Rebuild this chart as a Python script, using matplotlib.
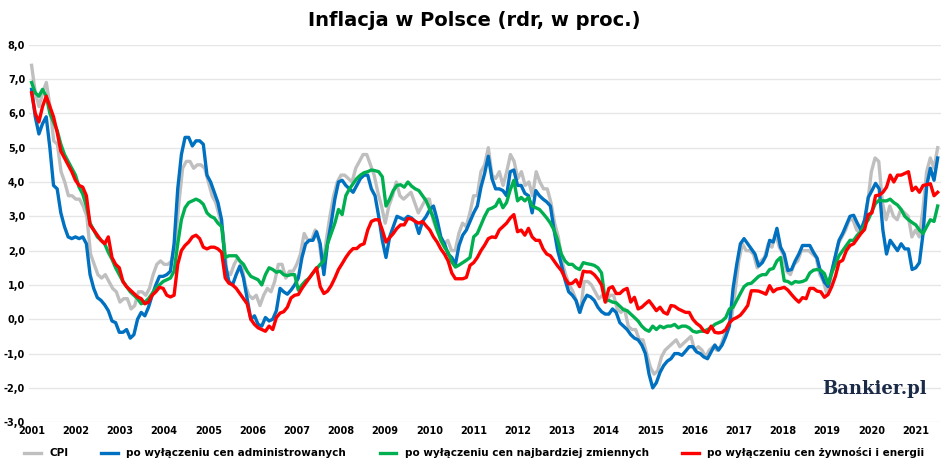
import matplotlib
matplotlib.use("Agg")
import matplotlib.pyplot as plt
import numpy as np

years = [str(y) for y in range(2001, 2022)]

cpi = [7.4,6.6,6.2,6.6,6.9,6.2,5.2,5.1,4.3,4.0,3.6,3.6,
       3.5,3.5,3.3,3.0,1.9,1.6,1.3,1.2,1.3,1.1,0.9,0.8,
       0.5,0.6,0.6,0.3,0.4,0.8,0.8,0.7,0.9,1.3,1.6,1.7,
       1.6,1.6,1.7,2.2,3.4,4.4,4.6,4.6,4.4,4.5,4.5,4.4,
       4.0,3.6,3.4,3.0,2.5,1.4,1.3,1.6,1.8,1.6,1.0,0.7,
       0.6,0.7,0.4,0.7,0.9,0.8,1.1,1.6,1.6,1.2,1.4,1.4,
       1.6,1.9,2.5,2.3,2.3,2.6,2.3,1.5,2.3,3.0,3.6,4.0,
       4.2,4.2,4.1,4.0,4.4,4.6,4.8,4.8,4.5,4.2,3.7,3.3,
       2.8,3.3,3.6,4.0,3.6,3.5,3.6,3.7,3.4,3.1,3.3,3.5,
       3.5,2.9,2.6,2.4,2.2,2.3,2.0,2.0,2.5,2.8,2.7,3.1,
       3.6,3.6,4.3,4.5,5.0,4.2,4.1,4.3,3.9,4.3,4.8,4.6,
       4.1,4.3,3.9,4.0,3.6,4.3,4.0,3.8,3.8,3.4,2.8,2.4,
       1.7,1.3,1.0,0.8,0.5,0.2,1.1,1.1,1.0,0.8,0.6,0.7,
       0.5,0.7,0.7,0.3,0.2,0.3,-0.2,-0.3,-0.3,-0.6,-0.6,-1.0,
       -1.4,-1.6,-1.5,-1.1,-0.9,-0.8,-0.7,-0.6,-0.8,-0.7,-0.6,-0.5,
       -0.9,-0.8,-0.9,-1.1,-0.9,-0.8,-0.9,-0.8,-0.5,-0.2,0.0,0.8,
       1.7,2.2,2.0,2.0,1.9,1.5,1.7,1.8,2.2,2.1,2.5,2.1,
       1.9,1.4,1.3,1.6,1.7,2.0,2.0,2.0,1.9,1.8,1.3,1.1,
       0.7,1.2,1.7,2.2,2.4,2.6,2.9,2.9,2.6,2.5,2.6,3.4,
       4.3,4.7,4.6,3.4,2.9,3.3,3.0,2.9,3.2,3.1,3.0,2.4,
       2.6,2.4,3.2,4.3,4.7,4.4,5.0]

admin = [6.7,5.9,5.4,5.7,5.9,5.0,3.9,3.8,3.1,2.7,2.4,2.35,
         2.4,2.35,2.4,2.2,1.3,0.9,0.63,0.55,0.42,0.25,-0.05,-0.1,
         -0.38,-0.38,-0.3,-0.55,-0.45,0.0,0.2,0.1,0.35,0.7,1.0,1.25,
         1.25,1.3,1.4,2.2,3.8,4.8,5.3,5.3,5.05,5.2,5.2,5.1,
         4.2,4.0,3.7,3.4,2.9,1.6,1.1,1.0,1.3,1.55,1.2,0.6,
         0.0,0.1,-0.15,-0.2,0.05,-0.05,
         0.0,0.25,0.9,0.8,0.73,0.85,1.0,1.2,1.8,2.2,2.3,2.3,
         2.55,2.2,1.3,2.2,2.8,3.5,4.0,4.05,3.9,3.8,3.7,3.9,
         4.1,4.2,4.2,3.8,3.6,3.0,2.3,1.8,2.4,2.7,3.0,2.95,
         2.9,3.0,2.95,2.85,2.5,2.85,3.0,3.2,3.3,2.9,2.4,2.2,
         1.9,1.8,1.6,2.15,2.45,2.6,2.85,3.1,3.3,3.85,4.25,4.75,
         4.1,3.8,3.8,
         3.75,3.6,4.3,4.35,3.9,3.9,3.67,3.6,3.1,3.75,3.6,3.5,
         3.42,3.3,2.6,2.0,1.6,1.15,0.8,0.7,0.55,0.2,0.5,0.7,
         0.65,0.55,0.35,0.22,0.15,0.15,0.3,0.2,-0.1,-0.2,-0.3,-0.45,
         -0.55,-0.6,-0.75,-1.0,-1.6,-2.0,-1.85,-1.55,-1.35,-1.22,-1.15,-1.0,
         -1.0,-1.05,-0.93,-0.8,-0.8,-0.95,-1.0,-1.1,-1.15,-0.95,-0.75,-0.9,
         -0.75,-0.5,-0.2,
         0.9,1.6,2.2,2.35,2.2,2.05,1.9,1.55,1.65,1.85,2.3,2.25,
         2.65,2.1,1.9,1.42,1.45,1.7,1.9,2.15,2.15,2.15,1.95,1.78,
         1.35,1.08,0.95,1.4,1.85,2.3,2.5,2.75,3.0,3.03,2.8,2.6,
         2.9,3.55,3.75,3.96,3.8,2.6,1.9,2.3,2.15,2.0,2.2,2.05,
         2.05,1.45,1.5,1.65,2.5,3.9,4.4,4.05,4.7]

volatile = [6.9,6.6,6.5,6.7,6.5,6.0,5.75,5.5,5.1,4.8,4.6,4.4,
            4.2,3.85,3.65,3.3,2.8,2.6,2.4,2.3,2.2,1.95,1.75,1.5,
            1.3,1.1,0.95,0.8,0.7,0.6,0.45,0.5,0.6,0.75,0.9,1.0,
            1.1,1.15,1.2,1.4,2.2,2.9,3.25,3.4,3.45,3.5,3.45,3.35,
            3.1,3.0,2.95,2.8,2.7,1.8,1.85,1.85,1.85,1.7,1.6,1.4,
            1.25,1.2,1.15,1.0,1.3,1.5,
            1.45,1.37,1.4,1.3,1.27,1.3,1.3,0.85,1.0,1.12,1.2,1.35,
            1.47,1.6,1.7,2.2,2.5,2.8,3.2,3.05,3.6,3.8,3.95,4.1,
            4.2,4.27,4.3,4.35,4.33,4.3,4.15,3.3,3.5,3.75,3.9,3.92,
            3.85,4.0,3.88,3.8,3.75,3.6,3.45,3.2,2.95,2.6,2.3,2.1,
            1.95,1.67,1.52,1.58,1.65,1.72,1.8,2.4,2.5,2.75,3.0,3.2,
            3.24,3.3,3.5,
            3.25,3.4,3.77,4.05,3.45,3.55,3.45,3.55,3.3,3.25,3.2,3.08,
            2.95,2.8,2.6,2.3,1.9,1.7,1.6,1.6,1.5,1.45,1.65,1.62,
            1.6,1.57,1.5,1.35,0.55,0.55,0.5,0.48,0.38,0.28,0.25,0.15,
            0.05,-0.05,-0.2,-0.3,-0.35,-0.2,-0.3,-0.2,-0.25,-0.2,-0.2,-0.15,
            -0.25,-0.2,-0.2,-0.25,-0.35,-0.38,-0.35,-0.35,-0.3,-0.25,-0.15,-0.1,
            -0.05,0.05,0.3,
            0.35,0.55,0.75,0.95,1.03,1.05,1.15,1.25,1.3,1.3,1.45,1.48,
            1.7,1.8,1.12,1.1,1.03,1.1,1.08,1.1,1.15,1.35,1.43,1.45,
            1.43,1.33,1.03,1.35,1.6,1.85,2.0,2.15,2.3,2.3,2.45,2.55,
            2.75,2.9,3.15,3.38,3.47,3.45,3.45,3.5,3.4,3.33,3.2,3.0,
            2.9,2.82,2.75,2.6,2.5,2.7,2.9,2.85,3.3]

core = [6.6,6.0,5.75,6.2,6.5,6.2,5.9,5.45,4.9,4.7,4.5,4.3,
        4.05,3.9,3.85,3.6,2.75,2.6,2.45,2.3,2.2,2.4,1.8,1.6,
        1.5,1.1,0.95,0.85,0.75,0.65,0.6,0.45,0.5,0.7,0.8,0.93,
        0.9,0.7,0.65,0.7,1.6,2.0,2.15,2.25,2.4,2.45,2.35,2.1,
        2.05,2.1,2.1,2.05,1.95,1.2,1.05,1.0,0.9,0.75,0.6,0.45,
        0.0,-0.15,-0.25,-0.3,-0.35,-0.2,
        -0.3,0.05,0.18,0.22,0.35,0.62,0.7,0.72,0.9,1.05,1.2,1.35,
        1.5,0.95,0.75,0.82,0.98,1.2,1.45,1.62,1.8,1.95,2.06,2.06,
        2.16,2.2,2.6,2.85,2.9,2.9,2.6,2.25,2.38,2.5,2.65,2.75,
        2.75,2.94,2.92,2.85,2.8,2.85,2.72,2.6,2.4,2.25,2.05,1.9,
        1.7,1.35,1.18,1.18,1.18,1.22,1.57,1.65,1.8,2.0,2.16,2.35,
        2.4,2.38,2.6,
        2.7,2.8,2.95,3.05,2.55,2.6,2.45,2.65,2.4,2.3,2.3,2.05,
        1.9,1.85,1.7,1.55,1.42,1.2,1.03,1.05,1.15,0.95,1.4,1.38,
        1.38,1.3,1.17,1.0,0.5,0.9,0.95,0.75,0.75,0.85,0.9,0.5,
        0.64,0.3,0.35,0.45,0.54,0.4,0.25,0.35,0.2,0.15,0.4,0.38,
        0.3,0.25,0.2,0.2,0.0,-0.12,-0.2,-0.34,-0.39,-0.2,-0.38,-0.4,
        -0.38,-0.3,-0.1,
        0.0,0.05,0.12,0.25,0.4,0.83,0.83,0.82,0.78,0.73,0.98,0.8,
        0.88,0.9,0.93,0.85,0.72,0.6,0.5,0.63,0.6,0.9,0.9,0.82,
        0.8,0.64,0.72,0.95,1.25,1.66,1.72,2.0,2.15,2.2,2.35,2.5,
        2.62,3.05,3.1,3.6,3.62,3.7,3.85,4.2,4.0,4.2,4.2,4.25,
        4.3,3.75,3.85,3.7,3.9,3.92,3.95,3.6,3.7]

labels = ["CPI", "po wyłączeniu cen administrowanych",
          "po wyłączeniu cen najbardziej zmiennych",
          "po wyłączeniu cen żywności i energii"]
colors = ["#BFBFBF", "#0070C0", "#00B050", "#FF0000"]

fig = plt.figure(figsize=(9.48, 4.66), dpi=100)
ax = fig.add_axes([0.031, 0.094, 0.962, 0.81])
n_months = len(cpi) - 1
for data, lab, col in zip([cpi, admin, volatile, core], labels, colors):
    x = np.linspace(0, n_months, len(data))
    ax.plot(x, data, color=col, lw=2.4, label=lab, solid_joinstyle="round")

ax.set_xlim(-0.6, n_months + 1)
ax.set_ylim(-3, 8)
yt = np.arange(-3, 9, 1.0)
ax.set_yticks(yt)
ax.set_yticklabels([f"{v:.1f}".replace(".", ",") for v in yt], fontsize=7, fontweight="bold")
ax.set_xticks(np.arange(0, 12 * len(years), 12))
ax.set_xticklabels(years, fontsize=7, fontweight="bold")
ax.grid(axis="y", color="#E6E6E6", lw=1)
ax.set_axisbelow(True)
for s in ax.spines.values():
    s.set_visible(False)
ax.tick_params(length=0, pad=3)

fig.text(0.5, 0.955, "Inflacja w Polsce (rdr, w proc.)", ha="center", va="center",
         fontsize=14, fontweight="bold")
leg = fig.legend(loc="center", bbox_to_anchor=(0.5, 0.028), ncol=4, frameon=False,
                 fontsize=7.5, handlelength=1.6, columnspacing=3.2)
for t in leg.get_texts():
    t.set_fontweight("bold")
fig.text(0.978, 0.165, "Bankier.pl", ha="right", va="center", fontsize=13,
         fontweight="bold", family="DejaVu Serif", color="#1B2A47")
fig.savefig("out.png", dpi=100)
